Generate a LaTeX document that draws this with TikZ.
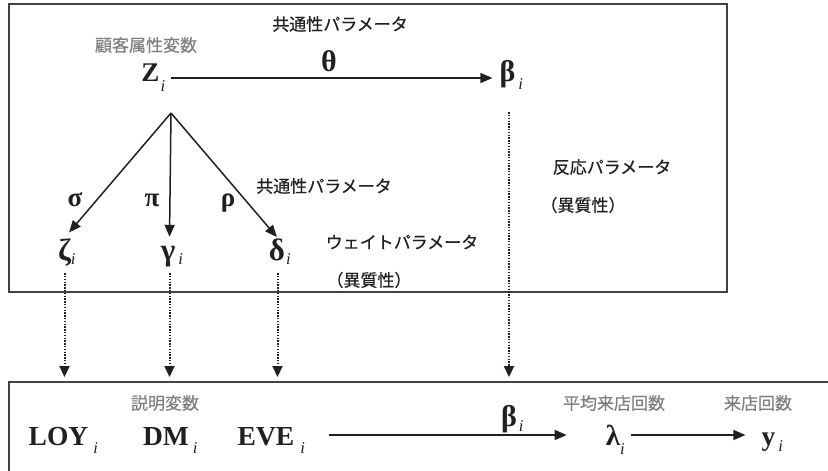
\documentclass[tikz,border=0pt]{standalone}
\usepackage{fontspec}
\setmainfont{Liberation Serif}
\newfontfamily\jp{Noto Sans CJK JP}[FakeBold=0.5]
\usetikzlibrary{arrows.meta,calc}
\definecolor{ink}{HTML}{231F20}
\definecolor{lbl}{HTML}{7F7F7F}
\newcommand\sbi[2][7pt]{\rlap{\raisebox{-#1}{\fontsize{16.5}{16.5}\selectfont\mdseries\itshape #2}}}
\tikzset{
  boxline/.style={draw=ink!85, line width=1.4pt},
  var/.style={font=\fontsize{27}{27}\selectfont\bfseries, text=ink, inner sep=0pt, anchor=base},
  gvar/.style={var, font=\fontsize{30}{30}\selectfont\bfseries},
  toprow/.style={text height=12pt, text depth=6pt},
  greekrow/.style={var, font=\fontsize{31}{31}\selectfont\bfseries, text height=22pt, text depth=4pt},
  botrow/.style={var, font=\fontsize{27.5}{27.5}\selectfont\bfseries, text height=20pt, text depth=0pt},
  jpb/.style={font=\jp\fontsize{17}{17}\selectfont, text=ink, inner sep=0pt},
  jpg/.style={font=\jp\fontsize{17}{17}\selectfont, text=lbl, inner sep=0pt},
  arr/.style={draw=ink, line width=1.5pt, -{Triangle[length=12pt,width=10pt]}},
  dotarr/.style={draw=ink, line width=2pt, dash pattern=on 1.4pt off 1.4pt, -{Triangle[length=11pt,width=10pt]}},
}
\begin{document}
\begin{tikzpicture}[x=1pt,y=-1pt]
\useasboundingbox (0,0) rectangle (828,471);
\clip (0,0) rectangle (828,471);
% boxes
\draw[boxline] (9,4) rectangle (727,292);
\draw[boxline] (9,480) -- (9,382) -- (840,382);
\coordinate (btop) at (0,382);
\coordinate (apex) at (171,113);
% top labels
\node[jpb] (kt) at (340,24) {共通性パラメータ};
\node[jpg] (kz) at (146,45) {顧客属性変数};
\node[gvar] (theta) at (329,71) {θ};
\node[var, toprow] (Z) at (151,81) {Z\kern1pt\sbi[10pt]{i}};
\node[gvar, toprow] (bt) at (509,81) {β\kern3pt\sbi[9pt]{i}};
% greek row
\node[greekrow] (zeta) at (64.5,260) {ζ\sbi[4pt]{i}};
\node[greekrow] (gam) at (169.5,260) {γ\kern3pt\sbi[4pt]{i}};
\node[greekrow] (del) at (277.5,260) {δ\kern1pt\sbi[4pt]{i}};
\node[var] (sig) at (75,206) {σ};
\node[var] (pi) at (152,206) {π};
\node[var] (rho) at (228,206) {ρ};
\node[jpb] (km) at (324,186) {共通性パラメータ};
\node[jpb] (wp) at (402,242) {ウェイトパラメータ};
\node[jpb] (ih1) at (369,280) {（異質性）};
\node[jpb] (rp) at (612,167) {反応パラメータ};
\node[jpb] (ih2) at (583,205) {（異質性）};
% bottom
\node[jpg] (setsu) at (165,403) {説明変数};
\node[jpg] (heikin) at (614,403) {平均来店回数};
\node[jpg] (raiten) at (758,403) {来店回数};
\node[botrow] (loy) at (61,445) {LOY\kern5pt\sbi[8pt]{i}};
\node[botrow] (dm) at (168,445) {DM\kern4pt\sbi[8pt]{i}};
\node[botrow] (eve) at (269,445) {EVE\kern6pt\sbi[8pt]{i}};
\node[gvar] (bb) at (510,426) {β\kern2pt\sbi[5pt]{i}};
\node[botrow, font=\fontsize{29}{29}\selectfont\bfseries] (lam) at (613,445) {λ\sbi[9pt]{i}};
\node[botrow] (yy) at (770,445) {y\kern3pt\sbi[6pt]{i}};
% connectors
\draw[arr, shorten <=10pt, shorten >=7pt] (Z.east) -- (bt.west);
\draw[arr, shorten >=7pt] (apex) -- (zeta.north);
\draw[arr, shorten >=1pt] (apex) -- (gam.north);
\draw[arr, shorten >=1pt] (apex) -- (del.north);
\draw[dotarr, shorten <=9pt, shorten >=5pt] (zeta.south) -- (zeta.south |- btop);
\draw[dotarr, shorten <=9pt, shorten >=5pt] (gam.south) -- (gam.south |- btop);
\draw[dotarr, shorten <=9pt, shorten >=5pt] (del.south) -- (del.south |- btop);
\draw[dotarr, shorten <=25pt, shorten >=5pt] (bt.south) -- (bt.south |- btop);
\draw[arr, shorten <=29pt, shorten >=39pt] (eve.east) -- (lam.west);
\draw[arr, shorten <=11pt, shorten >=16pt] (lam.east) -- (yy.west);
\end{tikzpicture}
\end{document}
